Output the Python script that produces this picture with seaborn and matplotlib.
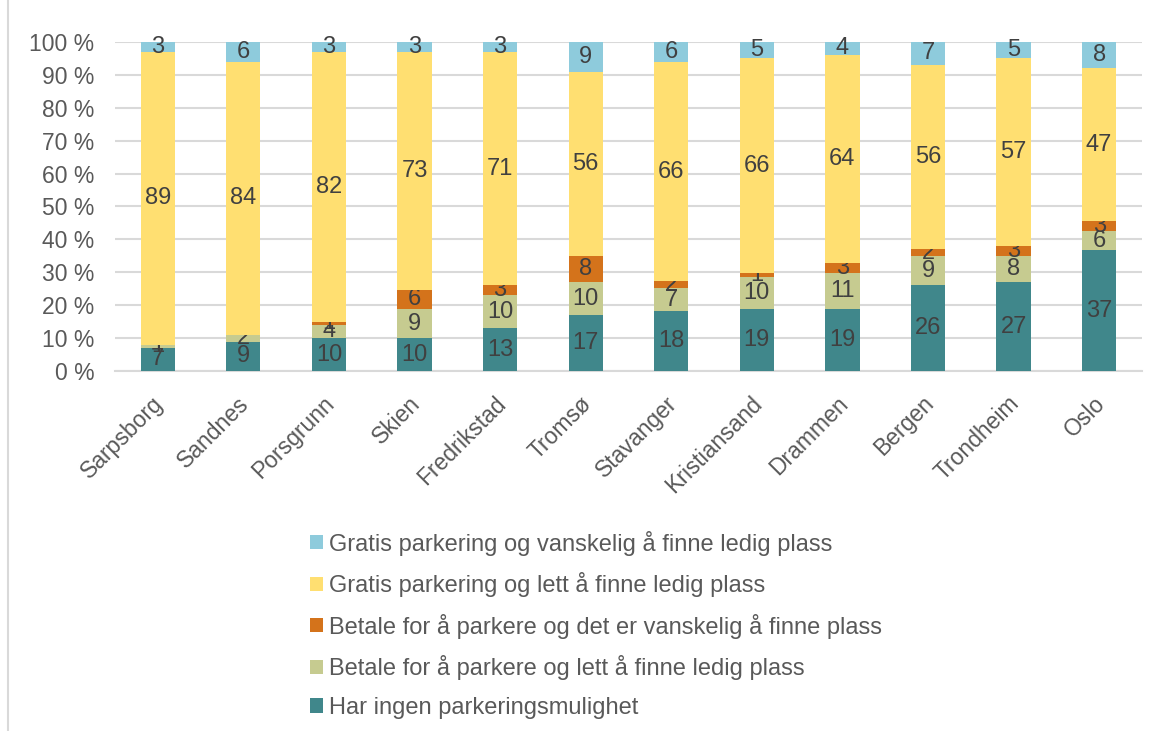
import numpy as np
import pandas as pd
import matplotlib
matplotlib.use("Agg")
import matplotlib.pyplot as plt
import matplotlib.transforms as mtransforms
from matplotlib.patches import Patch
from matplotlib.lines import Line2D
from matplotlib.ticker import FuncFormatter
import seaborn as sns

cities = ["Sarpsborg", "Sandnes", "Porsgrunn", "Skien", "Fredrikstad", "Tromsø",
          "Stavanger", "Kristiansand", "Drammen", "Bergen", "Trondheim", "Oslo"]

ingen = [7, 9, 10, 10, 13, 17, 18, 19, 19, 26, 27, 37]
betale_lett = [1, 2, 4, 9, 10, 10, 7, 10, 11, 9, 8, 6]
betale_vansk = [0, 0, 1, 6, 3, 8, 2, 1, 3, 2, 3, 3]
gratis_lett = [89, 84, 82, 73, 71, 56, 66, 66, 64, 56, 57, 47]
gratis_vansk = [3, 6, 3, 3, 3, 9, 6, 5, 4, 7, 5, 8]

series = [
    ("Har ingen parkeringsmulighet", ingen, "#40878B"),
    ("Betale for å parkere og lett å finne ledig plass", betale_lett, "#C6CB90"),
    ("Betale for å parkere og det er vanskelig å finne plass", betale_vansk, "#D4731B"),
    ("Gratis parkering og lett å finne ledig plass", gratis_lett, "#FFDF71"),
    ("Gratis parkering og vanskelig å finne ledig plass", gratis_vansk, "#8ECBDC"),
]

sns.set_theme(style="white")
plt.rcParams["font.family"] = ["Liberation Sans", "DejaVu Sans"]

fig = plt.figure(figsize=(11.57, 7.31), dpi=100)
ax = fig.add_axes([0.0994, 0.4925, 0.8876, 0.4501])

# 100 % stacked: normalise each city to its own total
totals = np.sum([s[1] for s in series], axis=0)
bottom = np.zeros(len(cities))
for name, vals, color in series:
    pct = np.array(vals) / totals * 100
    df = pd.DataFrame({"by": cities, "pct": pct})
    sns.barplot(data=df, x="by", y="pct", color=color, width=0.4,
                bottom=bottom, saturation=1, ax=ax, linewidth=0, zorder=3)
    labels = [str(v) if v > 0 else "" for v in vals]
    ax.bar_label(ax.containers[-1], labels=labels, label_type="center",
                 fontsize=17, color="#404040")
    bottom = bottom + pct

ax.set_ylim(0, 100)
ax.set_xlim(-0.5, len(cities) - 0.5)
ax.set_yticks(range(0, 101, 10))
ax.yaxis.set_major_formatter(FuncFormatter(lambda v, p: f"{v:.0f} %"))
ax.grid(axis="y", color="#D9D9D9", linewidth=1.5, zorder=0)
ax.set_xlabel("")
ax.set_ylabel("")
for s in ["top", "right", "left"]:
    ax.spines[s].set_visible(False)
ax.spines["bottom"].set_color("#D9D9D9")
ax.spines["bottom"].set_linewidth(1.5)
ax.tick_params(axis="y", length=0, pad=15, labelsize=16.5, labelcolor="#595959")
ax.tick_params(axis="x", length=0, pad=15, labelsize=16.5, labelcolor="#595959")
shift = mtransforms.ScaledTranslation(-6 / 100, 0, fig.dpi_scale_trans)
for lab in ax.get_xticklabels():
    lab.set_rotation(45)
    lab.set_ha("right")
    lab.set_rotation_mode("anchor")
    lab.set_transform(lab.get_transform() + shift)

handles = [Patch(facecolor=c, edgecolor="none", label=n) for n, v, c in series[::-1]]
fig.legend(handles=handles, loc="upper left", bbox_to_anchor=(0.26, 0.287),
           frameon=False, fontsize=17, labelcolor="#595959",
           handlelength=0.55, handleheight=0.55, handletextpad=0.25,
           labelspacing=0.7, borderaxespad=0)

fig.add_artist(Line2D([8 / 1157, 8 / 1157], [0, 1], color="#D9D9D9", linewidth=1.5))

fig.savefig("out.png", dpi=100)
